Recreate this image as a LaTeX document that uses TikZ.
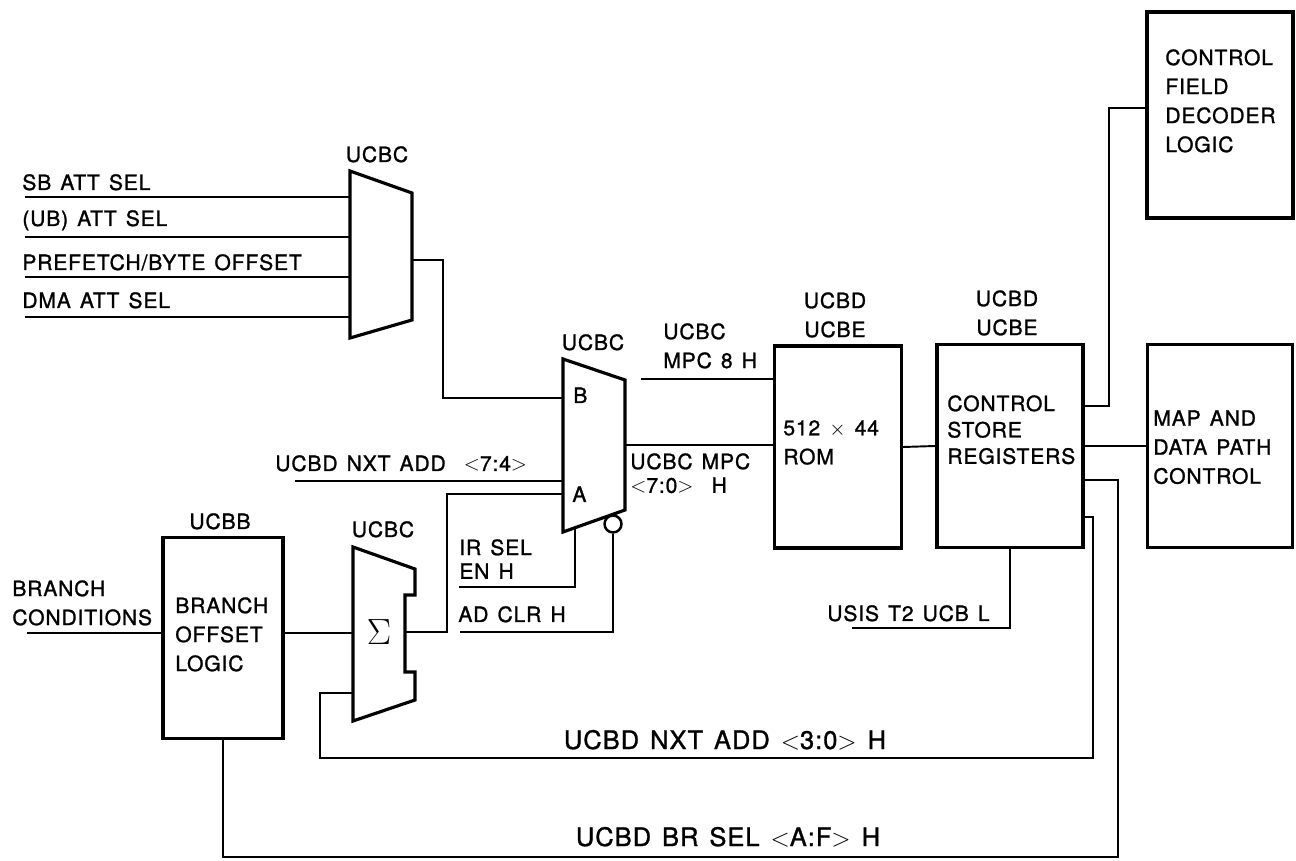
\documentclass[tikz,border=0pt]{standalone}
\usepackage{fontspec}
\setmainfont[LetterSpace=4,FakeBold=1.2,WordSpace=1.35]{TeX Gyre Heros}
\usetikzlibrary{positioning}

\tikzset{
  blk/.style={draw,line width=1.8pt,inner sep=0pt},
  wire/.style={line width=1.1pt},
  muxline/.style={line width=1.8pt,line join=miter},
  lbl/.style={inner sep=0pt,font=\fontsize{12}{16.5}\selectfont},
  mlbl/.style={lbl,align=left,anchor=north west},
  biglbl/.style={inner sep=0pt,font=\fontsize{14.5}{17}\selectfont},
}
\newcommand{\lt}{$<$}
\newcommand{\gt}{$>$}

\begin{document}
\begin{tikzpicture}[x=0.02cm,y=-0.02cm]
\useasboundingbox (0,0) rectangle (1296,861);

% Attention select mux
\draw[muxline] (350,171) -- (412,193) -- (412,320) -- (350,338) -- cycle;
\coordinate (mux1in1) at (350,197);
\coordinate (mux1in2) at (350,237);
\coordinate (mux1in3) at (350,277);
\coordinate (mux1in4) at (350,317);
\coordinate (mux1out) at (412,260);
\node[lbl,anchor=base] (mux1lbl) at (377,162) {UCBC};

\coordinate (sbatt) at (25,197);
\coordinate (ubatt) at (25,237);
\coordinate (prefetch) at (25,277);
\coordinate (dmaatt) at (25,317);
\node[lbl,anchor=base west] (sbattlbl) at (22,190) {SB ATT SEL};
\node[lbl,anchor=base west] (ubattlbl) at (22,226) {(UB) ATT SEL};
\node[lbl,anchor=base west] (prefetchlbl) at (22,270) {PREFETCH/BYTE OFFSET};
\node[lbl,anchor=base west] (dmaattlbl) at (22,308) {DMA ATT SEL};
\draw[wire] (sbatt) -- (mux1in1);
\draw[wire] (ubatt) -- (mux1in2);
\draw[wire] (prefetch) -- (mux1in3);
\draw[wire] (dmaatt) -- (mux1in4);

% Address mux
\draw[muxline] (563,359) -- (625,380) -- (625,510) -- (563,532) -- cycle;
\coordinate (mux2B) at (563,398);
\coordinate (mux2A1) at (563,481);
\coordinate (mux2A2) at (563,494);
\coordinate (mux2out) at (625,445);
\coordinate (mux2en) at (575,528);
\node[lbl,anchor=base] (mux2lbl) at (593,350) {UCBC};
\node[lbl,anchor=base west] (mux2Blbl) at (573,403) {B};
\node[lbl,anchor=base west] (mux2Albl) at (572,502) {A};
\node[blk,circle,line width=1.4pt,minimum size=0.34cm] (adbub) at (613,524) {};

% Adder
\draw[muxline] (353,547) -- (415,569) -- (415,595) -- (405,595) -- (405,672)
  -- (415,672) -- (415,700) -- (353,721) -- cycle;
\coordinate (sumin) at (353,633);
\coordinate (sumfb) at (353,693);
\coordinate (sumout) at (405,632);
\node[font=\huge] (sigma) at (379,632) {$\Sigma$};
\node[lbl,anchor=base] (sumlbl) at (383,537) {UCBC};

% Blocks
\node[blk,minimum width=2.4cm,minimum height=4.02cm] (bol) at (223,638) {};
\node[blk,minimum width=2.54cm,minimum height=4.04cm] (rom) at (838,447) {};
\node[blk,minimum width=2.92cm,minimum height=4.06cm] (csr) at (1010,446) {};
\node[blk,minimum width=2.9cm,minimum height=4.06cm] (map) at (1220,446) {};
\node[blk,minimum width=2.92cm,minimum height=4.12cm] (cfd) at (1220,115) {};

\node[mlbl] (boltxt) at (175,597) {BRANCH\\OFFSET\\LOGIC};
\node[lbl,anchor=base] (bollbl) at (220,529) {UCBB};
\node[mlbl] (romtxt) at (783,420) {512 $\times$ 44\\ROM};
\node[lbl,align=center,anchor=north] (romlbl) at (835,292) {UCBD\\UCBE};
\node[mlbl] (csrtxt) at (947,395) {CONTROL\\[-1.5pt]STORE\\[-1.5pt]REGISTERS};
\node[lbl,align=center,anchor=north] (csrlbl) at (1007,290) {UCBD\\UCBE};
\node[mlbl] (maptxt) at (1153,410) {MAP AND\\DATA PATH\\CONTROL};
\node[mlbl] (cfdtxt) at (1165,49) {CONTROL\\FIELD\\DECODER\\LOGIC};

% Signal names
\coordinate (brcond) at (27,633);
\node[mlbl] (brcondlbl) at (12,580) {BRANCH\\CONDITIONS};
\coordinate (nxtadd) at (295,481);
\node[lbl,anchor=base west] (nxtaddlbl) at (275,471) {UCBD NXT ADD\ \ \lt7:4\gt};
\coordinate (irsel) at (459,587);
\node[mlbl] (irsellbl) at (459,539) {IR SEL\\[-3pt]EN H};
\coordinate (adclr) at (460,632);
\node[lbl,anchor=base west] (adclrlbl) at (458,622) {AD CLR H};
\coordinate (mpc8) at (641,379);
\node[mlbl] (mpc8lbl) at (663,323) {UCBC\\MPC 8 H};
\node[mlbl] (mpclbl) at (630,453) {UCBC\ MPC\\[-3pt]\lt7:0\gt\ \ H};
\coordinate (usis) at (852,628);
\node[lbl,anchor=base west] (usislbl) at (827,621) {USIS T2 UCB\ L};
\node[biglbl,anchor=base] (nxtadd30lbl) at (725,749) {UCBD NXT ADD \lt3:0\gt\ H};
\node[biglbl,anchor=base] (brsellbl) at (728,846) {UCBD BR SEL \lt A:F\gt\ H};

% Connections
\draw[wire] (mux1out) -- (443,260) |- (mux2B);
\draw[wire] (nxtadd) -- (mux2A1);
\draw[wire] (sumout) -| (447,494) -- (mux2A2);
\draw[wire] (irsel) -| (mux2en);
\draw[wire] (adclr) -| (adbub.south);
\draw[wire] (brcond) -- (bol.west |- brcond);
\draw[wire] (bol.east |- sumin) -- (sumin);
\draw[wire] (mux2out) -- (rom.west |- mux2out);
\draw[wire] (mpc8) -- (rom.west |- mpc8);
\draw[wire] (rom.east) -- (csr.west);
\draw[wire] (csr.east) -- (map.west);
\draw[wire] (csr.east |- 0,406) -| (1109,108) -- (cfd.west |- 0,108);
\draw[wire] (csr.east |- 0,480) -| (1118,857) -| (bol.south);
\draw[wire] (csr.east |- 0,517) -| (1093,758) -- (320,758) |- (sumfb);
\draw[wire] (csr.south) |- (usis);
\end{tikzpicture}
\end{document}
